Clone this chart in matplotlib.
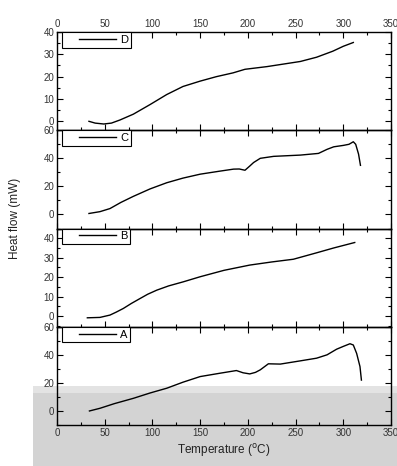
import matplotlib
matplotlib.use('Agg')
import matplotlib.pyplot as plt
from matplotlib.patches import Rectangle
from matplotlib.legend_handler import HandlerLine2D
from matplotlib.ticker import MultipleLocator

plt.rcParams['font.family'] = ['Liberation Sans', 'DejaVu Sans']

# curve D (top panel)
tD = [33.5, 40, 49, 57, 66, 80, 97.5, 115, 132, 150, 167, 184.5, 197, 220, 255, 272, 289, 300, 310.5]
hD = [0.0, -0.8, -1.2, -0.8, 0.6, 3.2, 7.5, 12.0, 15.6, 18.0, 20.0, 21.7, 23.3, 24.5, 26.8, 28.7, 31.4, 33.6, 35.3]

# curve C
tC = [33.5, 45, 55.5, 67, 80, 97.5, 115, 132, 150, 170, 185, 191, 197, 202, 206, 213, 227, 255, 274, 283,
      290, 300, 306, 310.5, 313, 316, 318]
hC = [0.7, 2.0, 4.2, 8.6, 12.9, 18.2, 22.6, 25.9, 28.7, 30.8, 32.3, 32.4, 31.5, 34.5, 37.0, 40.0, 41.4, 42.3, 43.5, 46.4,
      48.2, 49.2, 50.0, 51.8, 50.0, 43.0, 35.0]

# curve B
tB = [31.8, 45, 55.5, 62, 69.5, 78, 87, 95, 104.5, 117, 132.4, 150, 175, 202, 225, 247.7, 272, 290, 312]
hB = [-0.9, -0.7, 0.5, 2.0, 3.9, 6.5, 9.0, 11.2, 13.3, 15.5, 17.6, 20.2, 23.5, 26.2, 27.8, 29.2, 32.5, 35.0, 37.8]

# curve A (bottom panel)
tA = [34, 45, 60, 80, 97.5, 115, 132, 150, 170, 188, 195, 202, 208, 213, 221.5, 234, 255, 272, 283,
      293, 300, 307, 310.5, 314, 317.5, 319]
hA = [0.0, 1.9, 5.2, 9.0, 12.8, 16.2, 20.5, 24.5, 26.8, 28.8, 27.2, 26.4, 27.5, 29.3, 33.6, 33.4, 35.7, 37.6, 40.0,
      44.0, 46.0, 47.9, 47.0, 41.0, 31.6, 22.0]

panels = [('D', tD, hD, (-4, 40), 10),
          ('C', tC, hC, (-10, 60), 20),
          ('B', tB, hB, (-5.5, 45), 10),
          ('A', tA, hA, (-10, 60), 20)]


class ShortLine(HandlerLine2D):
    # legend sample line starts a bit right of the box edge
    def get_xdata(self, legend, xdescent, ydescent, width, height, fontsize):
        x0 = -xdescent + 0.28 * width
        x1 = -xdescent + width
        return [x0, x1], [x0, x1]


fig = plt.figure(figsize=(3.97, 4.66), dpi=100)

# grey band of the scanned background
fig.patches.append(Rectangle((33 / 397, 0), 1, 73 / 466, transform=fig.transFigure,
                             facecolor='#d3d3d3', edgecolor='none', zorder=-10))
fig.patches.append(Rectangle((33 / 397, 73 / 466), 1, 7 / 466, transform=fig.transFigure,
                             facecolor='#e3e3e3', edgecolor='none', zorder=-9))

left, right = 57 / 397, 391 / 397
top, bottom = 1 - 32 / 466, 1 - 425 / 466
h = (top - bottom) / 4

axes = []
for i, (name, t, hf, ylim, major) in enumerate(panels):
    ax = fig.add_axes([left, top - (i + 1) * h, right - left, h])
    ax.patch.set_alpha(0)
    line, = ax.plot(t, hf, color='black', lw=1.0, label=name)
    ax.set_xlim(0, 350)
    ax.set_ylim(*ylim)
    ax.xaxis.set_major_locator(MultipleLocator(50))
    ax.xaxis.set_minor_locator(MultipleLocator(25))
    ax.yaxis.set_major_locator(MultipleLocator(major))
    ax.yaxis.set_minor_locator(MultipleLocator(major / 2))
    ax.tick_params(which='both', direction='in', top=True, right=True,
                   labelsize=7, labelcolor='#333333', pad=2)
    ax.tick_params(which='major', length=4, width=0.8)
    ax.tick_params(which='minor', length=2.5, width=0.8)
    ax.tick_params(axis='x', labeltop=(i == 0), labelbottom=(i == 3))
    for s in ax.spines.values():
        s.set_linewidth(1.0)
    leg = ax.legend(handler_map={line: ShortLine()}, loc='upper left',
                    bbox_to_anchor=(0.015, 1.0), borderaxespad=0,
                    handlelength=4.6, handletextpad=0.4, fontsize=8, fancybox=False,
                    framealpha=1, borderpad=0.25)
    leg.get_frame().set_edgecolor('black')
    leg.get_frame().set_linewidth(0.8)
    axes.append(ax)

axes[3].set_xlabel('Temperature ($^{\\rm o}$C)', fontsize=8.5, color='#222222', labelpad=3)
fig.text(15 / 397, 1 - 218 / 466, 'Heat flow (mW)', rotation=90, ha='center', va='center',
         fontsize=8.5, color='#222222')

fig.savefig('out.png', dpi=100)
